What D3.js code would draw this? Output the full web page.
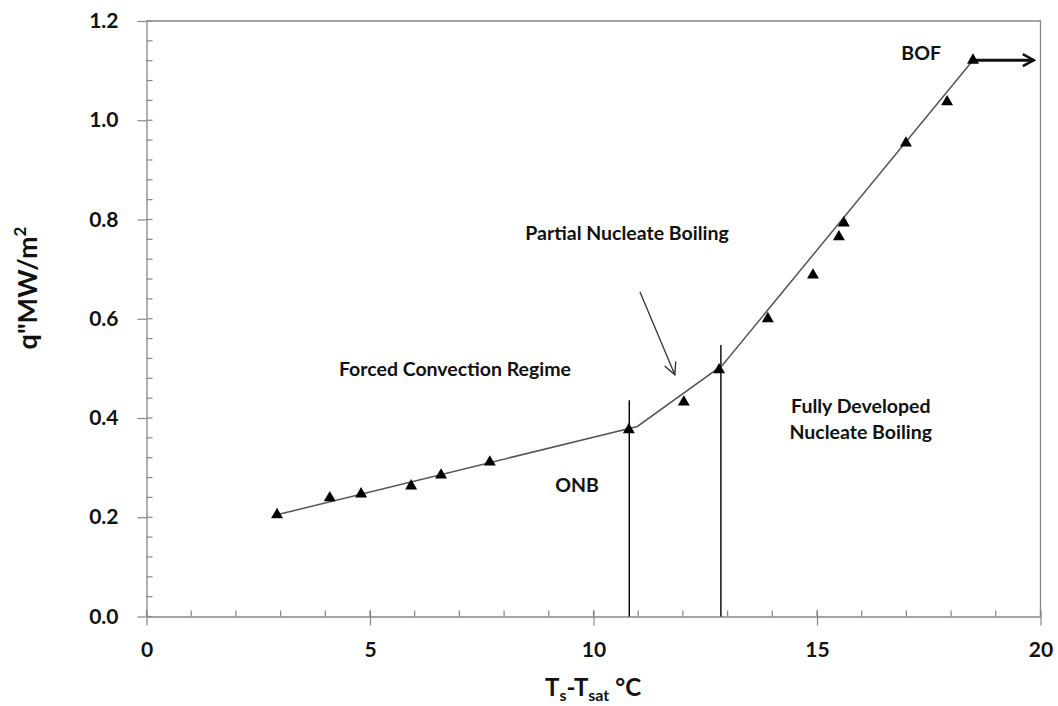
<!DOCTYPE html>
<html>
<head>
<meta charset="utf-8">
<script src="https://cdn.jsdelivr.net/npm/d3@7"></script>
<style>
  html, body { margin: 0; padding: 0; background: #fff; }
  svg { display: block; font-family: Lato, "Open Sans", "Liberation Sans", sans-serif; }
</style>
</head>
<body>
<svg id="chart" width="1058" height="706"></svg>
<script>
// Wall superheat (°C) and heat flux (MW/m²) measurements
const superheat = [2.92, 4.10, 4.80, 5.92, 6.59, 7.68, 10.79, 12.02, 12.81, 13.90, 14.91, 15.49, 15.60, 16.99, 17.91, 18.49];
const heatFlux  = [0.205, 0.239, 0.247, 0.263, 0.285, 0.311, 0.376, 0.432, 0.497, 0.600, 0.688, 0.765, 0.793, 0.954, 1.037, 1.121];

// Piecewise trend through the boiling regimes
const trendX = [2.92, 10.98, 12.88, 18.49];
const trendY = [0.205, 0.383, 0.506, 1.121];

// Regime boundary markers (ONB and onset of fully developed boiling)
const boundaryX   = [10.80, 12.85];
const boundaryTop = [0.436, 0.547];

// Axis ticks
const xTicks = [0, 5, 10, 15, 20];
const yTicks = [0.0, 0.2, 0.4, 0.6, 0.8, 1.0, 1.2];

// Region labels: [x, y, text]
const labels = [
  [17.33, 1.131, "BOF"],
  [10.75, 0.769, "Partial Nucleate Boiling"],
  [6.90, 0.495, "Forced Convection Regime"],
  [9.63, 0.261, "ONB"],
  [15.98, 0.420, "Fully Developed"],
  [15.98, 0.368, "Nucleate Boiling"]
];

const svg = d3.select("#chart");
const m = { left: 146.5, right: 1040.5, top: 21, bottom: 616.5 };
const x = d3.scaleLinear().domain([0, 20]).range([m.left, m.right]);
const y = d3.scaleLinear().domain([0, 1.2]).range([m.bottom, m.top]);
const axisColor = "#878787";

// Plot frame (top and right edges)
svg.append("path")
  .attr("d", `M${m.left},${m.top}H${m.right}V${m.bottom}`)
  .attr("fill", "none").attr("stroke", axisColor).attr("stroke-width", 1.3);

// Minor ticks (inside)
const gx = svg.append("g");
d3.range(0, 21, 1).forEach(v => {
  gx.append("line").attr("x1", x(v)).attr("x2", x(v))
    .attr("y1", m.bottom).attr("y2", m.bottom - 6)
    .attr("stroke", axisColor).attr("stroke-width", 1.2);
});
d3.range(0, 1.2001, 0.04).forEach(v => {
  gx.append("line").attr("x1", m.left).attr("x2", m.left + 6)
    .attr("y1", y(v)).attr("y2", y(v))
    .attr("stroke", axisColor).attr("stroke-width", 1.2);
});

// Major axes
const xAxis = d3.axisBottom(x).tickValues(xTicks).tickFormat(d3.format("d"))
  .tickSizeInner(9).tickSizeOuter(0).tickPadding(12);
const yAxis = d3.axisLeft(y).tickValues(yTicks).tickFormat(d3.format(".1f"))
  .tickSizeInner(9).tickSizeOuter(0).tickPadding(19);

const ax = svg.append("g").attr("transform", `translate(0,${m.bottom})`).call(xAxis);
const ay = svg.append("g").attr("transform", `translate(${m.left},0)`).call(yAxis);
[ax, ay].forEach(g => {
  g.select(".domain").attr("stroke", axisColor).attr("stroke-width", 1.3);
  g.selectAll(".tick line").attr("stroke", axisColor).attr("stroke-width", 1.2);
  g.selectAll(".tick text")
    .attr("fill", "#111").attr("font-size", 21).attr("font-weight", "bold")
    .attr("font-family", "Lato, 'Open Sans', sans-serif");
});
ax.selectAll(".tick line").attr("y1", -6);
ax.selectAll(".tick text").attr("dy", "0.95em");

// Axis titles
const xt = svg.append("text")
  .attr("x", 593).attr("y", 696)
  .attr("text-anchor", "middle").attr("font-size", 24).attr("font-weight", "bold").attr("fill", "#111");
xt.append("tspan").text("T");
xt.append("tspan").text("s").attr("font-size", 16).attr("dy", 5);
xt.append("tspan").text("-T").attr("dy", -5);
xt.append("tspan").text("sat").attr("font-size", 16).attr("dy", 5);
xt.append("tspan").text(" °C").attr("dy", -5);

const yt = svg.append("text")
  .attr("transform", "translate(37,288) rotate(-90)")
  .attr("text-anchor", "middle").attr("font-size", 27).attr("fill", "#111")
  .attr("font-weight", "bold");
yt.append("tspan").text("q\"MW/m");
yt.append("tspan").text("2").attr("font-size", 17).attr("dy", -11);

// Regime boundaries
svg.append("g").selectAll("line")
  .data(boundaryX.map((v, i) => [v, boundaryTop[i]]))
  .join("line")
  .attr("x1", d => x(d[0])).attr("x2", d => x(d[0]))
  .attr("y1", d => y(d[1])).attr("y2", m.bottom)
  .attr("stroke", "#000").attr("stroke-width", 1.4);

// Trend line
const lineGen = d3.line().x(d => x(d[0])).y(d => y(d[1]));
svg.append("path")
  .datum(trendX.map((v, i) => [v, trendY[i]]))
  .attr("d", lineGen)
  .attr("fill", "none").attr("stroke", "#555").attr("stroke-width", 1.5);

// Arrow markers
const defs = svg.append("defs");
defs.append("marker").attr("id", "openHead")
  .attr("viewBox", "0 0 14 14").attr("refX", 13).attr("refY", 7)
  .attr("markerWidth", 14).attr("markerHeight", 14).attr("markerUnits", "userSpaceOnUse")
  .attr("orient", "auto")
  .append("path").attr("d", "M1,1 L13,7 L1,13")
  .attr("fill", "none").attr("stroke", "#333").attr("stroke-width", 1.4);
defs.append("marker").attr("id", "boldHead")
  .attr("viewBox", "0 0 16 16").attr("refX", 14).attr("refY", 8)
  .attr("markerWidth", 16).attr("markerHeight", 16).attr("markerUnits", "userSpaceOnUse")
  .attr("orient", "auto")
  .append("path").attr("d", "M3,2 L14,8 L3,14")
  .attr("fill", "none").attr("stroke", "#111").attr("stroke-width", 2.6);

// Pointer to partial nucleate boiling segment
svg.append("line")
  .attr("x1", x(11.04)).attr("y1", y(0.654))
  .attr("x2", x(11.82)).attr("y2", y(0.487))
  .attr("stroke", "#333").attr("stroke-width", 1.3)
  .attr("marker-end", "url(#openHead)");

// Burnout arrow beyond the last point
svg.append("line")
  .attr("x1", x(18.49)).attr("y1", y(1.121))
  .attr("x2", x(19.85)).attr("y2", y(1.121))
  .attr("stroke", "#111").attr("stroke-width", 3)
  .attr("marker-end", "url(#boldHead)");

// Measurements
svg.append("g").selectAll("path")
  .data(superheat.map((v, i) => [v, heatFlux[i]]))
  .join("path")
  .attr("d", d3.symbol().type(d3.symbolTriangle).size(62))
  .attr("transform", d => `translate(${x(d[0])},${y(d[1])})`)
  .attr("fill", "#000");

// Region labels
svg.append("g").selectAll("text")
  .data(labels)
  .join("text")
  .attr("x", d => x(d[0])).attr("y", d => y(d[1]))
  .attr("text-anchor", "middle").attr("dominant-baseline", "middle")
  .attr("font-size", 19.5).attr("font-weight", "bold").attr("fill", "#111")
  .text(d => d[2]);
</script>
</body>
</html>
